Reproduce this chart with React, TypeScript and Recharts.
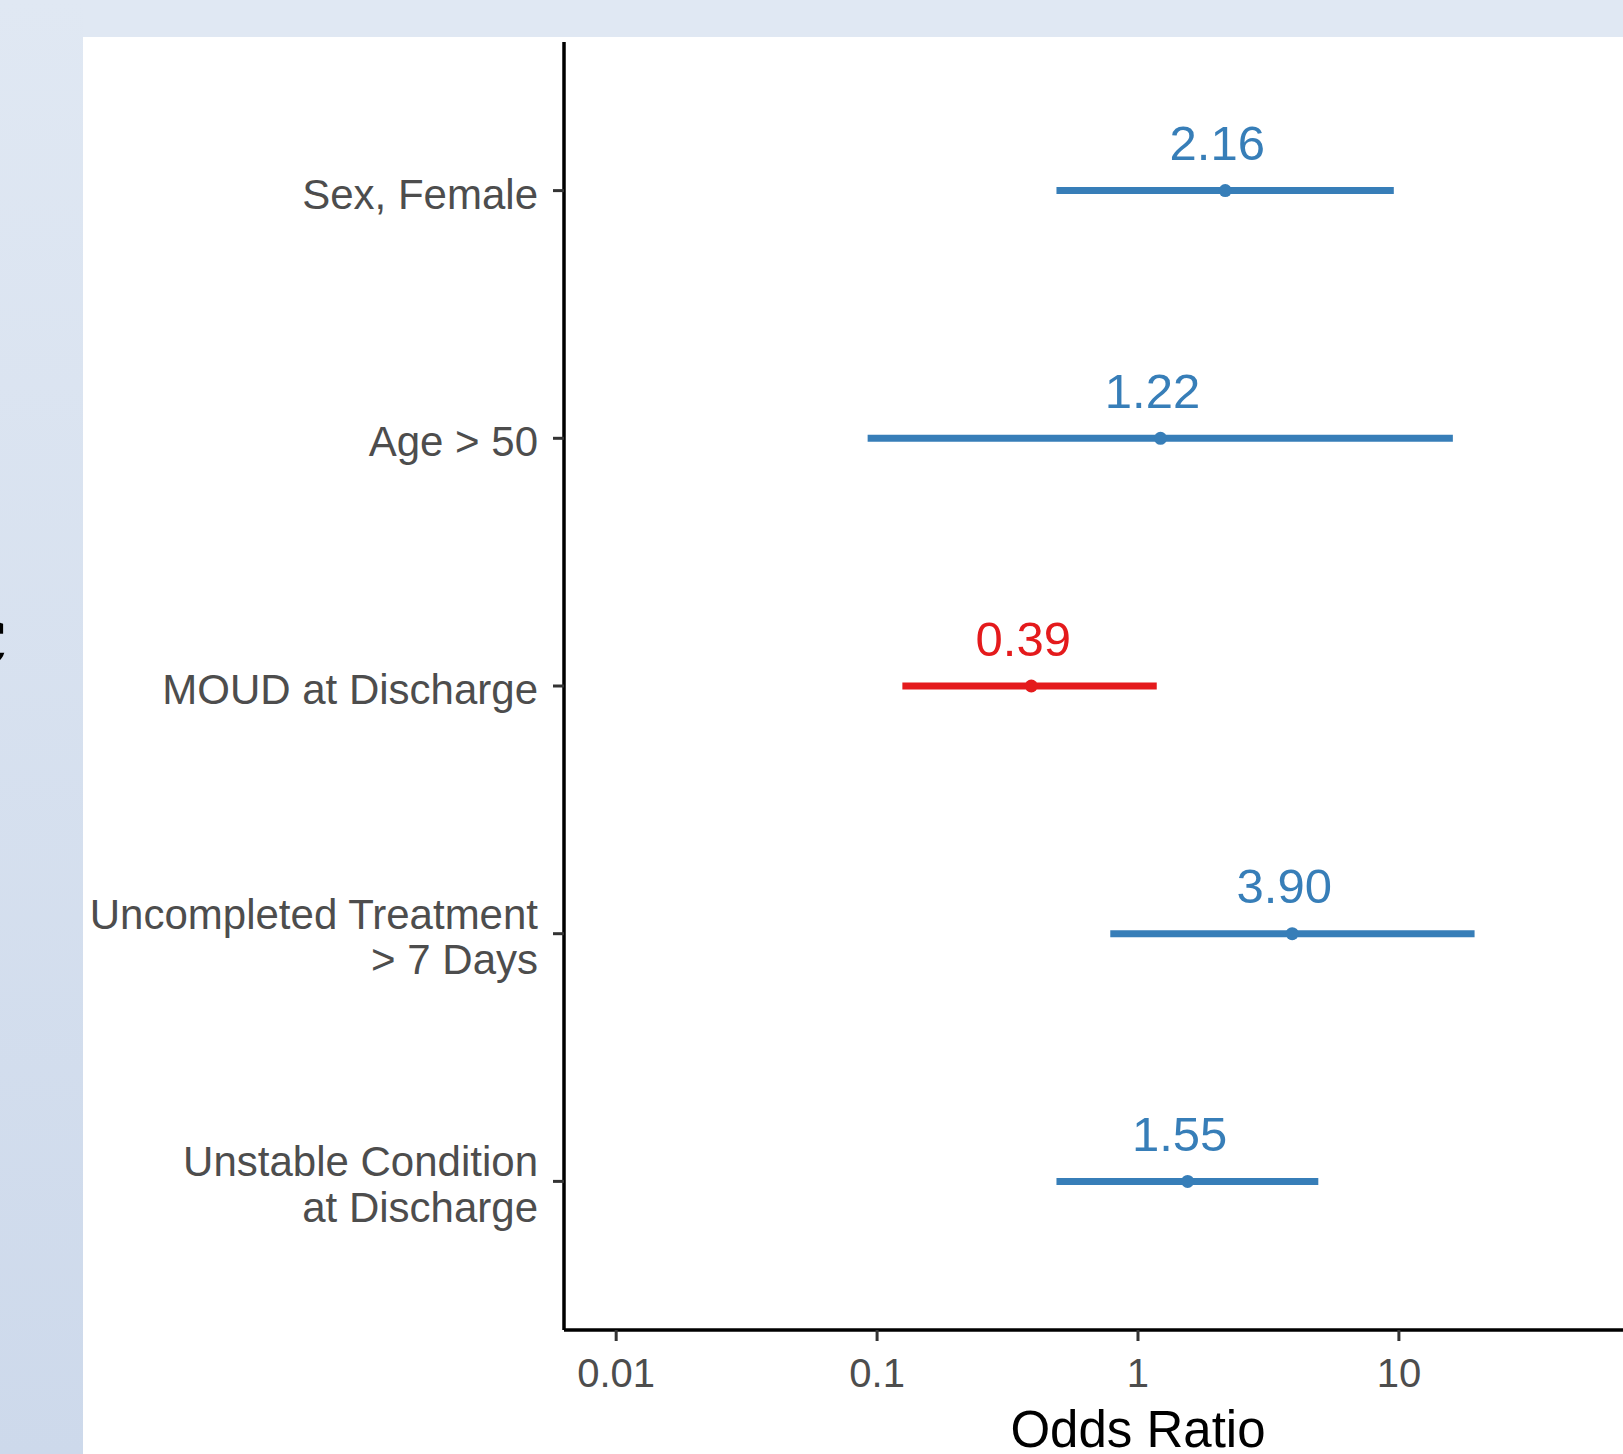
import React from 'react';
import { ScatterChart, Scatter, XAxis, YAxis, ErrorBar, LabelList } from 'recharts';

const categories = [
  'Sex, Female',
  'Age > 50',
  'MOUD at Discharge',
  'Uncompleted Treatment\n> 7 Days',
  'Unstable Condition\nat Discharge',
];
const oddsRatios = [2.16, 1.22, 0.39, 3.9, 1.55];
const ciLower = [0.487, 0.092, 0.125, 0.783, 0.487];
const ciUpper = [9.56, 16.1, 1.18, 19.5, 4.91];
const protective = [false, false, true, false, false];
const xTicks = [0.01, 0.1, 1, 10];
const xDomain = [0.00631, 158.5];

const BLUE = '#377EB8';
const RED = '#E41A1C';

const rows = categories.map((c, i) => ({
  name: c,
  y: i + 1,
  or: oddsRatios[i],
  err: [oddsRatios[i] - ciLower[i], ciUpper[i] - oddsRatios[i]],
  label: oddsRatios[i].toFixed(2),
}));
const blueRows = rows.filter((_, i) => !protective[i]);
const redRows = rows.filter((_, i) => protective[i]);

const FONT = '"Liberation Sans", Arial, sans-serif';

const YTick = (props: any) => {
  const { y, payload } = props;
  const lbl = categories[payload.value - 1] || '';
  const lines = lbl.split('\n');
  const capOff = 0.358 * 42;
  const offs = lines.length === 1 ? [3] : [-20, 25.5];
  return (
    <g>
      <line x1={553} x2={564} y1={y} y2={y} stroke="#333333" strokeWidth={3} />
      {lines.map((l, k) => (
        <text
          key={k}
          x={538}
          y={y + offs[k] + capOff}
          textAnchor="end"
          fontFamily={FONT}
          fontSize={42}
          fill="#4d4d4d"
        >
          {l}
        </text>
      ))}
    </g>
  );
};

const XTick = (props: any) => {
  const { x, payload } = props;
  return (
    <text x={x} y={1387} textAnchor="middle" fontFamily={FONT} fontSize={40} fill="#4d4d4d">
      {String(payload.value)}
    </text>
  );
};

const makeLabel = (color: string) => (props: any) => {
  const { x, y, width, height, value } = props;
  const cx = x + (width || 0) / 2;
  const cy = y + (height || 0) / 2;
  return (
    <text x={cx - 8} y={cy - 30.5} textAnchor="middle" fontFamily={FONT} fontSize={49} fill={color}>
      {value}
    </text>
  );
};

const Dot = (color: string) => (props: any) => (
  <circle cx={props.cx} cy={props.cy} r={6.5} fill={color} />
);

export default function App() {
  return (
    <div
      style={{
        position: 'fixed',
        left: 0,
        top: 0,
        width: 1623,
        height: 1454,
        overflow: 'hidden',
        background: '#e0e8f3',
      }}
    >
      <div
        style={{
          position: 'absolute',
          left: 0,
          top: 0,
          width: 83,
          height: 1454,
          background: 'linear-gradient(to bottom, #e0e8f3, #cdd9eb)',
        }}
      />
      <div
        style={{
          position: 'absolute',
          left: 83,
          top: 37,
          width: 1540,
          height: 1417,
          background: '#ffffff',
        }}
      />
      <div
        style={{
          position: 'absolute',
          left: -38,
          top: 614,
          fontFamily: '"DejaVu Serif", serif',
          fontSize: 60,
          color: '#000',
          lineHeight: 1,
        }}
      >
        C
      </div>
      <div style={{ position: 'absolute', left: 0, top: 0 }}>
        <ScatterChart width={1800} height={1454} margin={{ top: 42, right: 88, bottom: 0, left: 0 }}>
          <XAxis
            type="number"
            dataKey="or"
            scale="log"
            domain={xDomain}
            ticks={xTicks}
            allowDataOverflow
            height={124}
            axisLine={{ stroke: '#000', strokeWidth: 3.5 }}
            tickLine={{ stroke: '#333333', strokeWidth: 3 }}
            tickSize={11}
            tick={<XTick />}
            interval={0}
            label={{
              value: 'Odds Ratio',
              position: 'insideBottom',
              offset: 7,
              fontFamily: FONT,
              fontSize: 51,
              fill: '#000',
            }}
          />
          <YAxis
            type="number"
            dataKey="y"
            domain={[0.4, 5.6]}
            reversed
            ticks={[1, 2, 3, 4, 5]}
            interval={0}
            width={564}
            axisLine={{ stroke: '#000', strokeWidth: 3.5 }}
            tickLine={false}
            tick={<YTick />}
          />
          <Scatter data={blueRows} fill={BLUE} shape={Dot(BLUE)} isAnimationActive={false}>
            <ErrorBar dataKey="err" direction="x" width={0} stroke={BLUE} strokeWidth={7} isAnimationActive={false} />
            <LabelList dataKey="label" content={makeLabel(BLUE)} />
          </Scatter>
          <Scatter data={redRows} fill={RED} shape={Dot(RED)} isAnimationActive={false}>
            <ErrorBar dataKey="err" direction="x" width={0} stroke={RED} strokeWidth={7} isAnimationActive={false} />
            <LabelList dataKey="label" content={makeLabel(RED)} />
          </Scatter>
        </ScatterChart>
      </div>
    </div>
  );
}
